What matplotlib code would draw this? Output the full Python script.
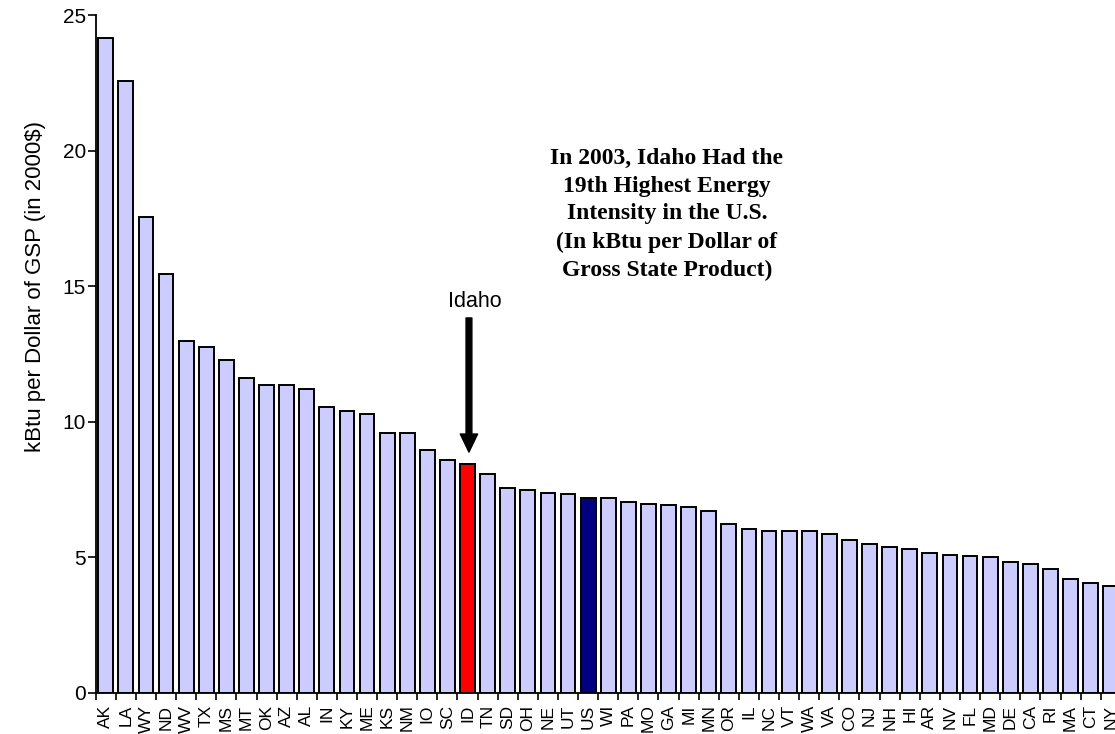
import matplotlib
matplotlib.use("Agg")
import matplotlib.pyplot as plt
import numpy as np

# energy intensity by state, 2003 (kBtu per dollar of GSP, 2000$)
states = ["AK", "LA", "WY", "ND", "WV", "TX", "MS", "MT", "OK", "AZ", "AL", "IN", "KY",
          "ME", "KS", "NM", "IO", "SC", "ID", "TN", "SD", "OH", "NE", "UT", "US", "WI",
          "PA", "MO", "GA", "MI", "MN", "OR", "IL", "NC", "VT", "WA", "VA", "CO", "NJ",
          "NH", "HI", "AR", "NV", "FL", "MD", "DE", "CA", "RI", "MA", "CT", "NY"]
intensity = [24.16, 22.58, 17.57, 15.46, 12.98, 12.74, 12.29, 11.62, 11.35, 11.35, 11.22,
             10.55, 10.41, 10.27, 9.59, 9.57, 8.97, 8.60, 8.45, 8.07, 7.57, 7.49, 7.38,
             7.32, 7.18, 7.17, 7.04, 6.95, 6.93, 6.85, 6.69, 6.24, 6.03, 5.96, 5.96, 5.96,
             5.86, 5.62, 5.48, 5.38, 5.31, 5.17, 5.08, 5.04, 5.01, 4.81, 4.76, 4.56, 4.21,
             4.05, 3.94]

base_color = "#CCCCFF"
highlight = {"ID": "#FF0000", "US": "#000080"}
colors = [highlight.get(s, base_color) for s in states]

fig = plt.figure(figsize=(11.15, 7.34), dpi=100)
# axes runs a little past the right edge, like the original crop
ax = fig.add_axes([95.7 / 1115, 1 - 692.7 / 734, (1120.8 - 95.7) / 1115, (692.7 - 15.3) / 734])

x = np.arange(len(states))
ax.bar(x, intensity, width=0.74, color=colors, edgecolor="black", linewidth=1.4, zorder=2)

ax.set_xlim(-0.5, len(states) - 0.5)
ax.set_ylim(0, 25)
ax.set_yticks([0, 5, 10, 15, 20, 25])
ax.tick_params(axis="y", direction="out", length=5.5, width=1.2, labelsize=15, pad=1.5)
for lbl in ax.get_yticklabels():
    lbl.set_family("Liberation Sans")

ax.set_xticks(x)
ax.set_xticklabels(states, rotation=90, fontsize=12.5, family="Liberation Sans")
ax.tick_params(axis="x", which="major", length=0, pad=8.5)
ax.set_xticks(np.arange(-0.5, len(states), 1), minor=True)
ax.tick_params(axis="x", which="minor", direction="out", length=5, width=1.2)

for side in ["top", "right"]:
    ax.spines[side].set_visible(False)
ax.spines["left"].set_linewidth(1.3)
ax.spines["bottom"].set_linewidth(1.3)

ax.set_ylabel("kBtu per Dollar of GSP (in 2000$)", fontsize=16, family="Liberation Sans")
ax.yaxis.set_label_coords(-0.048, 0.6)

# Idaho arrow
id_idx = states.index("ID")
ax.annotate("", xy=(id_idx + 0.07, 8.88), xytext=(id_idx + 0.07, 13.83),
            arrowprops=dict(width=4.2, headwidth=12.5, headlength=13, facecolor="black",
                            edgecolor="black", shrink=0))
ax.text(id_idx + 0.37, 14.42, "Idaho", ha="center", va="center", fontsize=15.5,
        family="Liberation Sans")

ax.text(27.92, 17.66, "In 2003, Idaho Had the\n19th Highest Energy\nIntensity in the U.S.\n"
        "(In kBtu per Dollar of\nGross State Product)",
        ha="center", va="center", fontsize=17, fontweight="bold", family="Liberation Serif",
        linespacing=1.43)

fig.savefig("out.png", dpi=100)
